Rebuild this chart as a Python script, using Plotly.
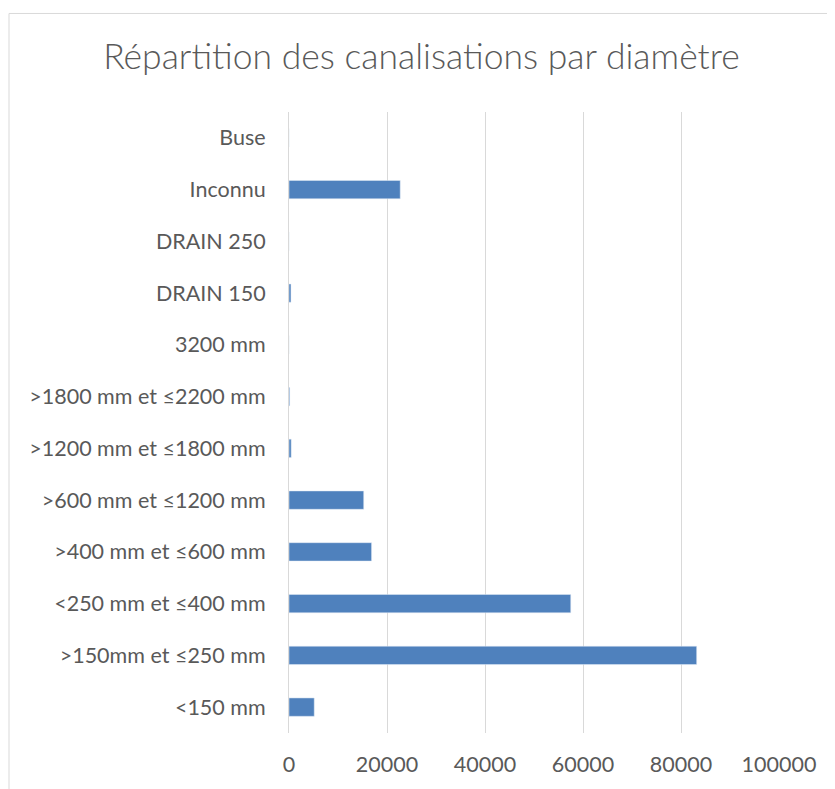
import plotly.graph_objects as go

# categories listed bottom to top, as in the chart
categories = [
    "<150 mm",
    ">150mm et ≤250 mm",
    "<250 mm et ≤400 mm",
    ">400 mm et ≤600 mm",
    ">600 mm et ≤1200 mm",
    ">1200 mm et ≤1800 mm",
    ">1800 mm et ≤2200 mm",
    "3200 mm",
    "DRAIN 150",
    "DRAIN 250",
    "Inconnu",
    "Buse",
]
lengths = [5150, 83200, 57500, 16850, 15250, 450, 150, 0, 400, 0, 22700, 0]
x_ticks = [0, 20000, 40000, 60000, 80000, 100000]

title = "Répartition des canalisations par diamètre"
grey = "#595959"
grid = "#d9d9d9"

# the page body adds an 8px offset, so the figure is a bit smaller
W, H = 827, 781
L, R, T, B = 281, 56, 104, 53
pw = W - L - R
ph = H - T - B

fig = go.Figure()
fig.add_trace(go.Bar(
    x=lengths,
    y=categories,
    orientation="h",
    marker=dict(color="#4f81bd"),
    width=0.355,
))

fig.update_layout(
    width=W,
    height=H,
    paper_bgcolor="white",
    plot_bgcolor="white",
    showlegend=False,
    margin=dict(l=L, r=R, t=T, b=B),
    font=dict(family="Lato, Open Sans, sans-serif", color=grey),
    title=dict(
        text=title,
        x=0.5,
        xanchor="center",
        y=1 - 49 / H,
        yanchor="middle",
        font=dict(size=35.5, color=grey, weight=300),
    ),
    xaxis=dict(
        range=[0, 100000],
        tickvals=x_ticks,
        ticktext=[str(v) for v in x_ticks],
        showgrid=True,
        gridcolor=grid,
        gridwidth=1,
        zeroline=False,
        showline=False,
        tickfont=dict(size=21.5, color=grey),
        ticklabelstandoff=16,
        fixedrange=True,
    ),
    yaxis=dict(
        type="category",
        categoryorder="array",
        categoryarray=categories,
        showgrid=False,
        zeroline=False,
        showline=True,
        linecolor=grid,
        linewidth=1,
        tickfont=dict(size=21.5, color=grey),
        ticklabelstandoff=18,
        range=[-0.5, len(categories) - 0.5],
    ),
    shapes=[
        dict(
            type="rect",
            xref="paper",
            yref="paper",
            x0=(1 - L) / pw,
            x1=1.3,
            y0=-0.3,
            y1=(ph + T - 5) / ph,
            line=dict(color=grid, width=1),
            fillcolor="rgba(0,0,0,0)",
            layer="below",
        )
    ],
)

fig.write_html("out.html")
